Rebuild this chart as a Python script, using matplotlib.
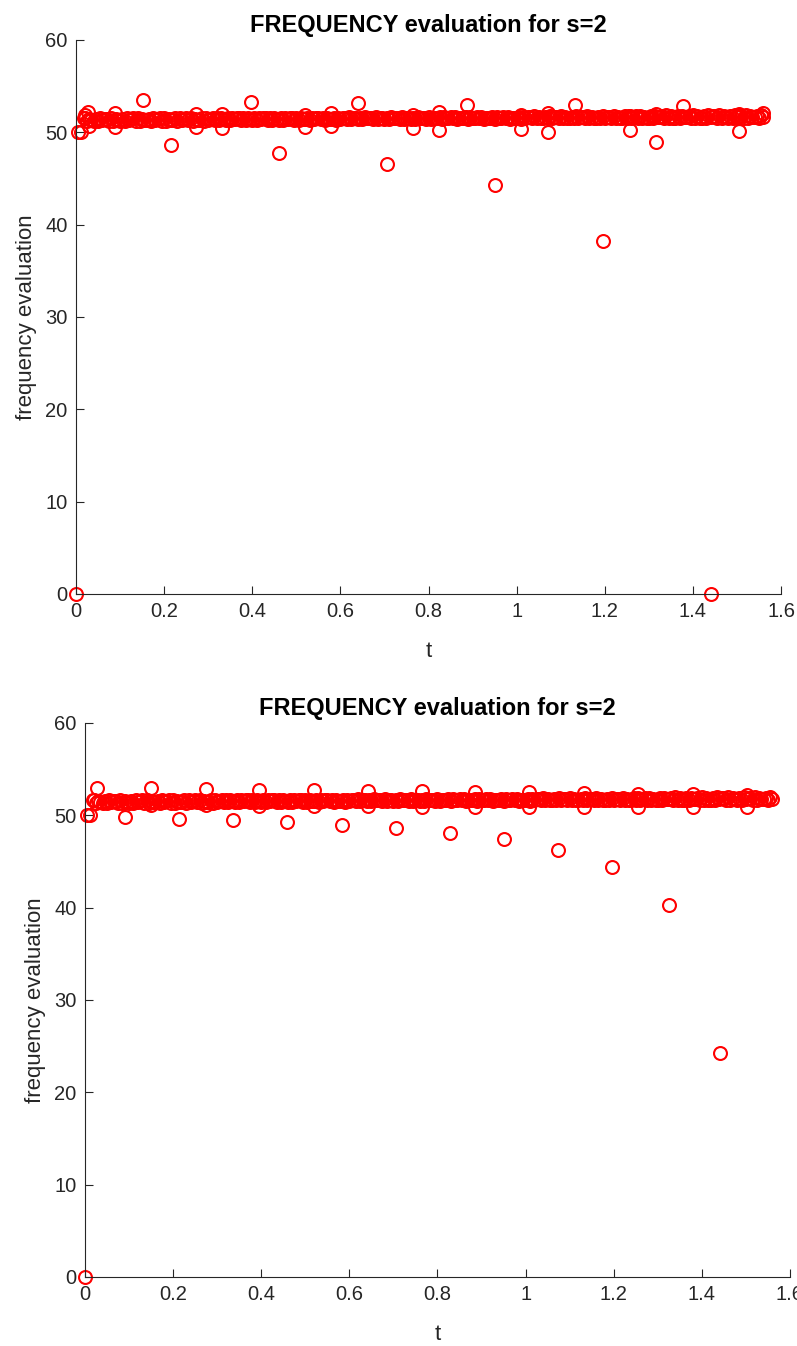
import matplotlib.pyplot as plt

plt.rcParams["font.family"] = ["Liberation Sans", "DejaVu Sans"]

# sample times of the dense band (same grid in both panels)
t_band = [
    0.02, 0.03, 0.04, 0.05, 0.06, 0.07, 0.08, 0.09, 0.10, 0.11,
    0.12, 0.13, 0.14, 0.15, 0.16, 0.17, 0.18, 0.19, 0.20, 0.21,
    0.22, 0.23, 0.24, 0.25, 0.26, 0.27, 0.28, 0.29, 0.30, 0.31,
    0.32, 0.33, 0.34, 0.35, 0.36, 0.37, 0.38, 0.39, 0.40, 0.41,
    0.42, 0.43, 0.44, 0.45, 0.46, 0.47, 0.48, 0.49, 0.50, 0.51,
    0.52, 0.53, 0.54, 0.55, 0.56, 0.57, 0.58, 0.59, 0.60, 0.61,
    0.62, 0.63, 0.64, 0.65, 0.66, 0.67, 0.68, 0.69, 0.70, 0.71,
    0.72, 0.73, 0.74, 0.75, 0.76, 0.77, 0.78, 0.79, 0.80, 0.81,
    0.82, 0.83, 0.84, 0.85, 0.86, 0.87, 0.88, 0.89, 0.90, 0.91,
    0.92, 0.93, 0.94, 0.95, 0.96, 0.97, 0.98, 0.99, 1.00, 1.01,
    1.02, 1.03, 1.04, 1.05, 1.06, 1.07, 1.08, 1.09, 1.10, 1.11,
    1.12, 1.13, 1.14, 1.15, 1.16, 1.17, 1.18, 1.19, 1.20, 1.21,
    1.22, 1.23, 1.24, 1.25, 1.26, 1.27, 1.28, 1.29, 1.30, 1.31,
    1.32, 1.33, 1.34, 1.35, 1.36, 1.37, 1.38, 1.39, 1.40, 1.41,
    1.42, 1.43, 1.44, 1.45, 1.46, 1.47, 1.48, 1.49, 1.50, 1.51,
    1.52, 1.53, 1.54, 1.55, 1.56,
]
# in-between samples
t_band_mid = [
    0.025, 0.035, 0.045, 0.055, 0.065, 0.075, 0.085, 0.095, 0.105, 0.115,
    0.125, 0.135, 0.145, 0.155, 0.165, 0.175, 0.185, 0.195, 0.205, 0.215,
    0.225, 0.235, 0.245, 0.255, 0.265, 0.275, 0.285, 0.295, 0.305, 0.315,
    0.325, 0.335, 0.345, 0.355, 0.365, 0.375, 0.385, 0.395, 0.405, 0.415,
    0.425, 0.435, 0.445, 0.455, 0.465, 0.475, 0.485, 0.495, 0.505, 0.515,
    0.525, 0.535, 0.545, 0.555, 0.565, 0.575, 0.585, 0.595, 0.605, 0.615,
    0.625, 0.635, 0.645, 0.655, 0.665, 0.675, 0.685, 0.695, 0.705, 0.715,
    0.725, 0.735, 0.745, 0.755, 0.765, 0.775, 0.785, 0.795, 0.805, 0.815,
    0.825, 0.835, 0.845, 0.855, 0.865, 0.875, 0.885, 0.895, 0.905, 0.915,
    0.925, 0.935, 0.945, 0.955, 0.965, 0.975, 0.985, 0.995, 1.005, 1.015,
    1.025, 1.035, 1.045, 1.055, 1.065, 1.075, 1.085, 1.095, 1.105, 1.115,
    1.125, 1.135, 1.145, 1.155, 1.165, 1.175, 1.185, 1.195, 1.205, 1.215,
    1.225, 1.235, 1.245, 1.255, 1.265, 1.275, 1.285, 1.295, 1.305, 1.315,
    1.325, 1.335, 1.345, 1.355, 1.365, 1.375, 1.385, 1.395, 1.405, 1.415,
    1.425, 1.435, 1.445, 1.455, 1.465, 1.475, 1.485, 1.495, 1.505, 1.515,
    1.525, 1.535, 1.545, 1.555,
]

# top panel: band values
f1_band = [
    51.5, 51.4, 51.2, 51.2, 51.3, 51.4, 51.5, 51.4, 51.2, 51.2,
    51.3, 51.5, 51.5, 51.4, 51.3, 51.2, 51.3, 51.5, 51.5, 51.4,
    51.3, 51.2, 51.3, 51.5, 51.5, 51.4, 51.3, 51.2, 51.3, 51.5,
    51.6, 51.5, 51.3, 51.3, 51.4, 51.5, 51.6, 51.5, 51.3, 51.3,
    51.4, 51.5, 51.6, 51.5, 51.3, 51.3, 51.4, 51.5, 51.6, 51.5,
    51.4, 51.3, 51.4, 51.6, 51.6, 51.5, 51.4, 51.3, 51.4, 51.6,
    51.7, 51.6, 51.4, 51.4, 51.5, 51.6, 51.7, 51.6, 51.4, 51.4,
    51.5, 51.6, 51.7, 51.6, 51.4, 51.4, 51.5, 51.6, 51.7, 51.6,
    51.5, 51.4, 51.5, 51.7, 51.7, 51.6, 51.5, 51.4, 51.5, 51.7,
    51.7, 51.6, 51.5, 51.4, 51.5, 51.7, 51.7, 51.6, 51.5, 51.4,
    51.6, 51.7, 51.8, 51.7, 51.5, 51.5, 51.6, 51.7, 51.8, 51.7,
    51.5, 51.5, 51.6, 51.7, 51.8, 51.7, 51.5, 51.5, 51.6, 51.7,
    51.8, 51.7, 51.6, 51.5, 51.6, 51.8, 51.8, 51.7, 51.6, 51.5,
    51.7, 51.8, 51.9, 51.8, 51.6, 51.6, 51.7, 51.8, 51.9, 51.8,
    51.6, 51.6, 51.7, 51.8, 51.9, 51.8, 51.6, 51.6, 51.7, 51.8,
    51.9, 51.8, 51.7, 51.6, 51.7,
]
f1_band_mid = [
    51.2, 51.3, 51.4, 51.5, 51.4, 51.2, 51.2, 51.3, 51.4, 51.5,
    51.4, 51.2, 51.2, 51.3, 51.4, 51.5, 51.4, 51.2, 51.2, 51.3,
    51.5, 51.5, 51.4, 51.3, 51.2, 51.3, 51.5, 51.5, 51.4, 51.3,
    51.3, 51.4, 51.5, 51.6, 51.5, 51.3, 51.3, 51.4, 51.5, 51.6,
    51.5, 51.3, 51.3, 51.4, 51.5, 51.6, 51.5, 51.3, 51.3, 51.4,
    51.6, 51.6, 51.5, 51.4, 51.3, 51.4, 51.6, 51.6, 51.5, 51.4,
    51.4, 51.5, 51.6, 51.7, 51.6, 51.4, 51.4, 51.5, 51.6, 51.7,
    51.6, 51.4, 51.4, 51.5, 51.6, 51.7, 51.6, 51.4, 51.4, 51.5,
    51.7, 51.7, 51.6, 51.5, 51.4, 51.5, 51.7, 51.7, 51.6, 51.5,
    51.4, 51.5, 51.7, 51.7, 51.6, 51.5, 51.4, 51.5, 51.7, 51.7,
    51.7, 51.5, 51.5, 51.6, 51.7, 51.8, 51.7, 51.5, 51.5, 51.6,
    51.7, 51.8, 51.7, 51.5, 51.5, 51.6, 51.7, 51.8, 51.7, 51.5,
    51.5, 51.6, 51.8, 51.8, 51.7, 51.6, 51.5, 51.6, 51.8, 51.8,
    51.7, 51.6, 51.5, 51.6, 51.8, 51.8, 51.7, 51.6, 51.5, 51.6,
    51.8, 51.9, 51.8, 51.6, 51.6, 51.7, 51.8, 51.9, 51.8, 51.6,
    51.6, 51.7, 51.8, 51.9,
]

# top panel: isolated points
f1_out_t = [
    0.000, 0.005, 0.012, 0.017, 0.021, 0.027, 0.030,
    0.089, 0.089, 0.152, 0.216, 0.272, 0.272, 0.331, 0.331,
    0.397, 0.461, 0.520, 0.520, 0.579, 0.579, 0.640, 0.706,
    0.765, 0.765, 0.824, 0.824, 0.887, 0.951, 1.010, 1.010,
    1.071, 1.071, 1.133, 1.196, 1.257, 1.257, 1.316, 1.316,
    1.378, 1.441, 1.505, 1.505, 1.559,
]
f1_out_v = [
    0.0, 50.0, 50.0, 51.6, 51.9, 52.2, 50.7,
    52.1, 50.6, 53.5, 48.6, 52.0, 50.6, 52.0, 50.5,
    53.3, 47.8, 51.9, 50.6, 52.1, 50.7, 53.2, 46.6,
    51.9, 50.5, 52.2, 50.3, 53.0, 44.3, 51.9, 50.4,
    52.1, 50.0, 53.0, 38.2, 51.8, 50.3, 52.0, 48.9,
    52.9, 0.0, 52.0, 50.1, 52.1,
]

# bottom panel: band values
f2_band = [
    51.6, 51.5, 51.3, 51.3, 51.4, 51.5, 51.6, 51.5, 51.3, 51.3,
    51.4, 51.6, 51.6, 51.5, 51.4, 51.3, 51.4, 51.6, 51.6, 51.5,
    51.4, 51.3, 51.4, 51.6, 51.6, 51.5, 51.4, 51.3, 51.4, 51.6,
    51.7, 51.6, 51.4, 51.4, 51.5, 51.6, 51.7, 51.6, 51.4, 51.4,
    51.5, 51.6, 51.7, 51.6, 51.4, 51.4, 51.5, 51.6, 51.7, 51.6,
    51.5, 51.4, 51.5, 51.7, 51.7, 51.6, 51.5, 51.4, 51.5, 51.7,
    51.8, 51.7, 51.5, 51.5, 51.6, 51.7, 51.8, 51.7, 51.5, 51.5,
    51.6, 51.7, 51.8, 51.7, 51.5, 51.5, 51.6, 51.7, 51.8, 51.7,
    51.6, 51.5, 51.6, 51.8, 51.8, 51.7, 51.6, 51.5, 51.6, 51.8,
    51.8, 51.7, 51.6, 51.5, 51.6, 51.8, 51.8, 51.7, 51.6, 51.5,
    51.7, 51.8, 51.9, 51.8, 51.6, 51.6, 51.7, 51.8, 51.9, 51.8,
    51.6, 51.6, 51.7, 51.8, 51.9, 51.8, 51.6, 51.6, 51.7, 51.8,
    51.9, 51.8, 51.7, 51.6, 51.7, 51.9, 51.9, 51.8, 51.7, 51.6,
    51.8, 51.9, 52.0, 51.9, 51.7, 51.7, 51.8, 51.9, 52.0, 51.9,
    51.7, 51.7, 51.8, 51.9, 52.0, 51.9, 51.7, 51.7, 51.8, 51.9,
    52.0, 51.9, 51.8, 51.7, 51.8,
]
f2_band_mid = [
    51.3, 51.4, 51.5, 51.6, 51.5, 51.3, 51.3, 51.4, 51.5, 51.6,
    51.5, 51.3, 51.3, 51.4, 51.5, 51.6, 51.5, 51.3, 51.3, 51.4,
    51.6, 51.6, 51.5, 51.4, 51.3, 51.4, 51.6, 51.6, 51.5, 51.4,
    51.4, 51.5, 51.6, 51.7, 51.6, 51.4, 51.4, 51.5, 51.6, 51.7,
    51.6, 51.4, 51.4, 51.5, 51.6, 51.7, 51.6, 51.4, 51.4, 51.5,
    51.7, 51.7, 51.6, 51.5, 51.4, 51.5, 51.7, 51.7, 51.6, 51.5,
    51.5, 51.6, 51.7, 51.8, 51.7, 51.5, 51.5, 51.6, 51.7, 51.8,
    51.7, 51.5, 51.5, 51.6, 51.7, 51.8, 51.7, 51.5, 51.5, 51.6,
    51.8, 51.8, 51.7, 51.6, 51.5, 51.6, 51.8, 51.8, 51.7, 51.6,
    51.5, 51.6, 51.8, 51.8, 51.7, 51.6, 51.5, 51.6, 51.8, 51.8,
    51.8, 51.6, 51.6, 51.7, 51.8, 51.9, 51.8, 51.6, 51.6, 51.7,
    51.8, 51.9, 51.8, 51.6, 51.6, 51.7, 51.8, 51.9, 51.8, 51.6,
    51.6, 51.7, 51.9, 51.9, 51.8, 51.7, 51.6, 51.7, 51.9, 51.9,
    51.8, 51.7, 51.6, 51.7, 51.9, 51.9, 51.8, 51.7, 51.6, 51.7,
    51.9, 52.0, 51.9, 51.7, 51.7, 51.8, 51.9, 52.0, 51.9, 51.7,
    51.7, 51.8, 51.9, 52.0,
]

# bottom panel: isolated points
f2_out_t = [
    0.000, 0.005, 0.012, 0.018, 0.028,
    0.150, 0.274, 0.396, 0.520, 0.642, 0.766, 0.885,
    1.008, 1.133, 1.256, 1.379, 1.502,
    0.092, 0.213, 0.337, 0.459, 0.583, 0.705, 0.828,
    0.952, 1.074, 1.197, 1.325, 1.441,
    0.150, 0.274, 0.396, 0.520, 0.642, 0.766, 0.885,
    1.008, 1.133, 1.256, 1.379, 1.502,
]
f2_out_v = [
    0.0, 50.0, 50.0, 51.6, 52.9,
    52.9, 52.85, 52.75, 52.7, 52.6, 52.6, 52.55,
    52.5, 52.4, 52.3, 52.3, 52.2,
    49.85, 49.6, 49.5, 49.25, 48.95, 48.6, 48.05,
    47.4, 46.25, 44.4, 40.3, 24.3,
    51.1, 51.1, 51.0, 51.0, 51.0, 50.9, 50.9,
    50.9, 50.9, 50.9, 50.9, 50.9,
]

x_ticks = [0, 0.2, 0.4, 0.6, 0.8, 1.0, 1.2, 1.4, 1.6]
x_tick_labels = ["0", "0.2", "0.4", "0.6", "0.8", "1", "1.2", "1.4", "1.6"]
y_ticks = [0, 10, 20, 30, 40, 50, 60]
title = "FREQUENCY evaluation for s=2"

AXC = "#262626"
FS = 14.5

fig = plt.figure(figsize=(7.97, 13.46), dpi=100)
ax1 = fig.add_axes([0.0954, 0.5587, 0.8846, 0.4116])
ax2 = fig.add_axes([0.1066, 0.0513, 0.8846, 0.4116])

panels = [
    (ax1, f1_band, f1_band_mid, f1_out_t, f1_out_v),
    (ax2, f2_band, f2_band_mid, f2_out_t, f2_out_v),
]
for ax, band, band_mid, out_t, out_v in panels:
    style = dict(linestyle="none", marker="o", markerfacecolor="none",
                 markeredgecolor="#ff0000", markersize=9.3, markeredgewidth=1.5,
                 clip_on=False)
    ax.plot(t_band, band, **style)
    ax.plot(t_band_mid, band_mid, **style)
    ax.plot(out_t, out_v, **style)
    ax.set_xlim(0, 1.6)
    ax.set_ylim(0, 60)
    ax.set_xticks(x_ticks)
    ax.set_xticklabels(x_tick_labels)
    ax.set_yticks(y_ticks)
    for side in ["top", "right"]:
        ax.spines[side].set_visible(False)
    for side in ["left", "bottom"]:
        ax.spines[side].set_color(AXC)
        ax.spines[side].set_linewidth(0.8)
    ax.tick_params(direction="in", length=6, width=0.8, colors=AXC,
                   labelsize=FS, pad=6)
    ax.set_xlabel("t", fontsize=16, color=AXC, labelpad=14)
    ax.set_ylabel("frequency evaluation", fontsize=16, color=AXC, labelpad=6)
    ax.set_title(title, fontsize=17, fontweight="bold", color="black", pad=6)

fig.savefig("out.png", dpi=100)
